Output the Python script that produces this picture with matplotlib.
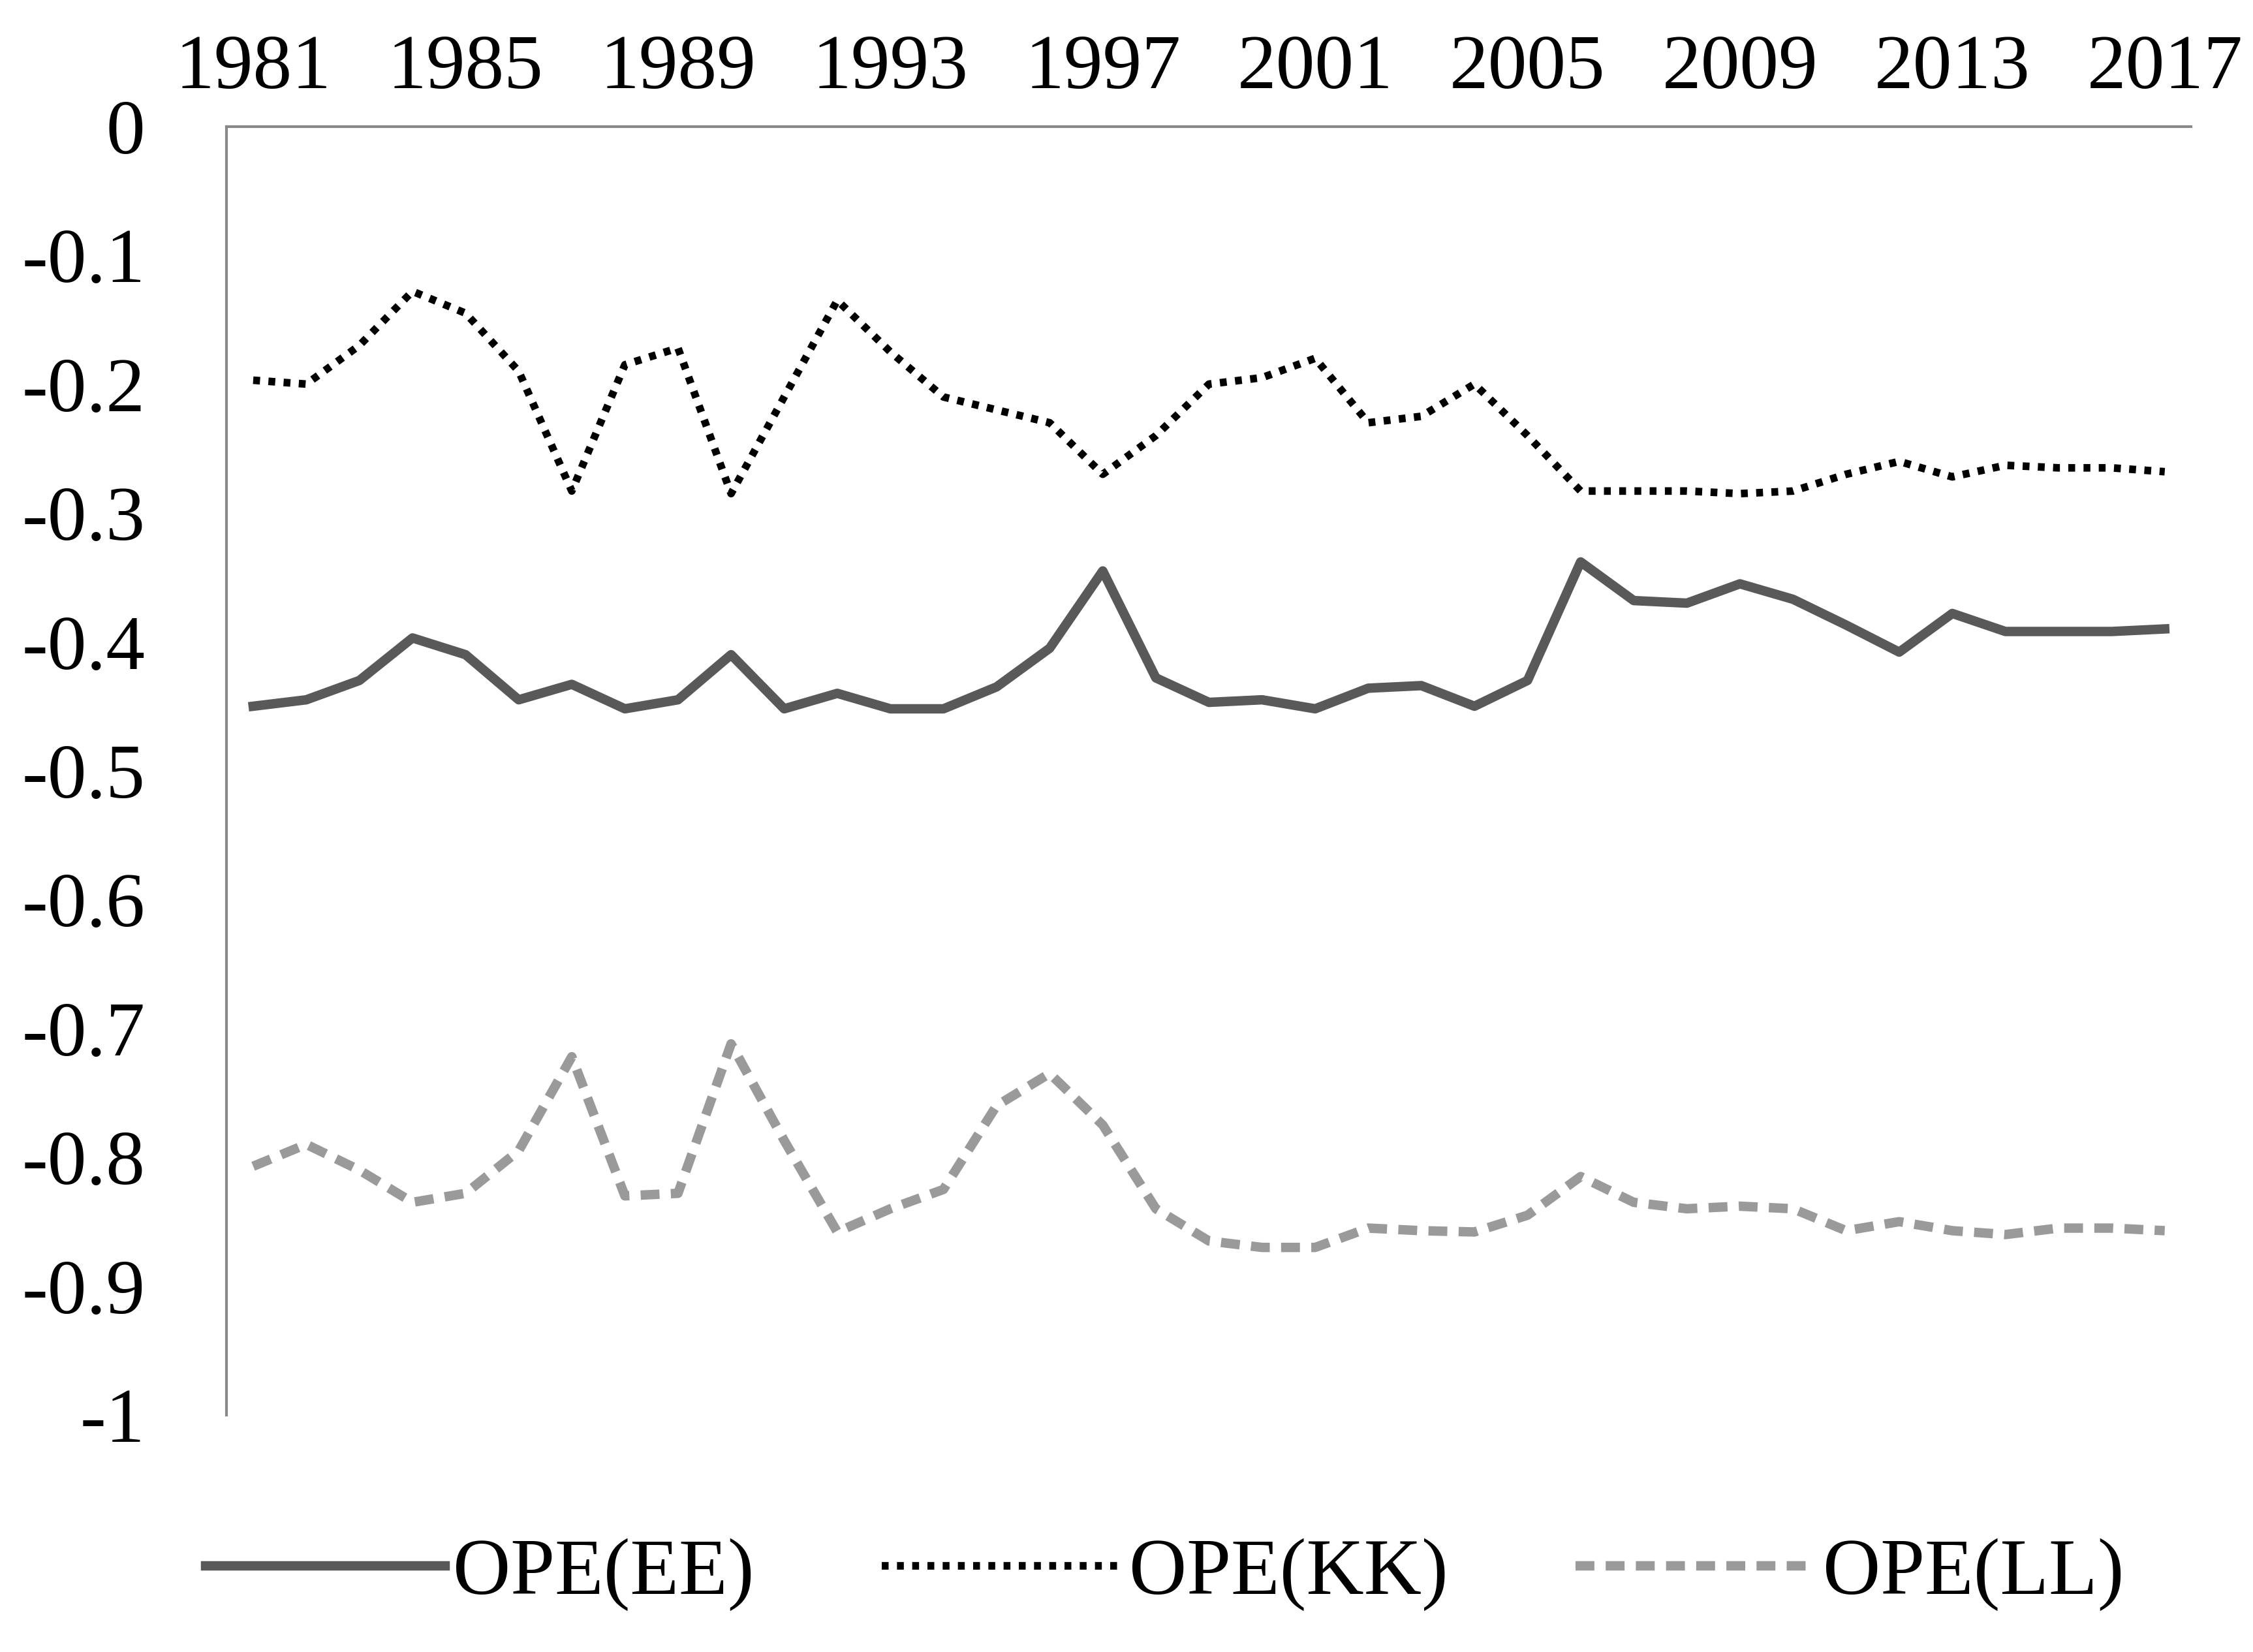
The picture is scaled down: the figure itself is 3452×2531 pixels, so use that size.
import matplotlib
matplotlib.use("Agg")
import matplotlib.pyplot as plt

years = list(range(1981, 2018))
ee = [-0.45,-0.445,-0.43,-0.397,-0.41,-0.445,-0.433,-0.452,-0.445,-0.41,-0.452,-0.44,-0.452,-0.452,-0.435,-0.405,-0.345,-0.428,-0.447,-0.445,-0.452,-0.436,-0.434,-0.45,-0.43,-0.338,-0.368,-0.37,-0.355,-0.367,-0.387,-0.408,-0.378,-0.392,-0.392,-0.392,-0.39]
kk = [-0.197,-0.2,-0.17,-0.128,-0.145,-0.19,-0.283,-0.185,-0.172,-0.285,-0.21,-0.135,-0.175,-0.21,-0.22,-0.23,-0.27,-0.24,-0.2,-0.195,-0.18,-0.23,-0.225,-0.2,-0.24,-0.283,-0.283,-0.283,-0.285,-0.283,-0.27,-0.26,-0.272,-0.263,-0.265,-0.265,-0.268]
ll = [-0.807,-0.79,-0.81,-0.835,-0.828,-0.795,-0.722,-0.83,-0.828,-0.712,-0.787,-0.858,-0.84,-0.825,-0.76,-0.735,-0.775,-0.84,-0.865,-0.87,-0.87,-0.855,-0.857,-0.858,-0.845,-0.815,-0.835,-0.84,-0.838,-0.84,-0.857,-0.85,-0.857,-0.86,-0.855,-0.855,-0.857]
xticks = list(range(1981, 2018, 4))
yticks = [0,-0.1,-0.2,-0.3,-0.4,-0.5,-0.6,-0.7,-0.8,-0.9,-1]
ylabels = ["0","-0.1","-0.2","-0.3","-0.4","-0.5","-0.6","-0.7","-0.8","-0.9","-1"]

plt.rcParams['font.family'] = ['Liberation Serif', 'DejaVu Serif']
fig = plt.figure(figsize=(17.26, 12.655), dpi=200)
ax = fig.add_axes([0.1006, 0.1435, 0.872, 0.78])
ax.plot(years, ee, color='#595959', lw=5.2, label='OPE(EE)')
ax.plot(years, kk, color='black', lw=4.2, ls=(0, (0.9, 1.1)), label='OPE(KK)')
ax.plot(years, ll, color='#9a9a9a', lw=5.2, ls=(0, (2.0, 1.2)), label='OPE(LL)')
ax.set_xlim(1980.5, 2017.5)
ax.set_ylim(-1, 0)
ax.xaxis.tick_top()
ax.set_xticks(xticks)
ax.set_yticks(yticks)
ax.set_yticklabels(ylabels)
ax.tick_params(length=0, labelsize=43, pad=12)
ax.tick_params(axis='y', pad=45)
for s in ['right', 'bottom']:
    ax.spines[s].set_visible(False)
for s in ['left', 'top']:
    ax.spines[s].set_color('#888888')
    ax.spines[s].set_linewidth(1.5)
fig.legend(loc='center', bbox_to_anchor=(0.517, 0.047), ncol=3, frameon=False,
           fontsize=44, handlelength=3.0, columnspacing=1.6, handletextpad=0.1)
fig.savefig('out.png', dpi=200)
